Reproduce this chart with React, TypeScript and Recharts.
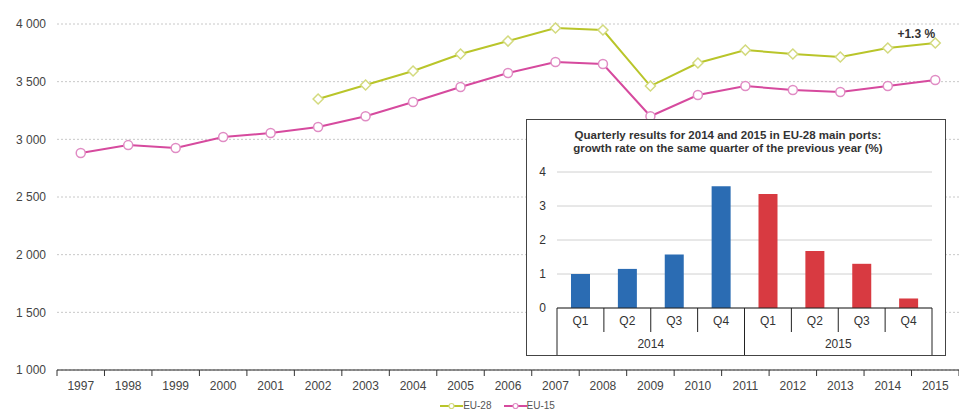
import React from "react";
import {
  LineChart, Line, XAxis, YAxis, CartesianGrid, Legend, LabelList,
  BarChart, Bar, Cell,
} from "recharts";

const years = ["1997","1998","1999","2000","2001","2002","2003","2004","2005","2006","2007","2008","2009","2010","2011","2012","2013","2014","2015"];
const eu28: (number | null)[] = [null,null,null,null,null,3350,3471,3592,3740,3852,3965,3948,3462,3662,3774,3740,3714,3792,3835];
const eu15: number[] = [2881,2950,2925,3020,3055,3107,3200,3324,3454,3575,3670,3653,3200,3384,3462,3428,3410,3462,3514];
const yTicks = [1000,1500,2000,2500,3000,3500,4000];
const growthLabel = "+1.3 %";

const quarters = ["Q1","Q2","Q3","Q4","Q1","Q2","Q3","Q4"];
const quarterYears = ["2014","2014","2014","2014","2015","2015","2015","2015"];
const growth = [1.0,1.15,1.57,3.58,3.35,1.68,1.3,0.28];
const insetTicks = [0,1,2,3,4];
const insetTitle1 = "Quarterly results for 2014 and 2015 in EU-28 main ports:";
const insetTitle2 = "growth rate on the same quarter of the previous year (%)";

const FONT = "'Liberation Sans', Arial, sans-serif";
const C28 = "#b9c52a";
const C28M = "#d3da7e";
const C15 = "#d64a9e";
const C15M = "#e08cc4";
const BLUE = "#2b6cb3";
const RED = "#d83a41";

const lineData = years.map((y, i) => ({ year: y, eu28: eu28[i], eu15: eu15[i] }));
const barData = quarters.map((q, i) => ({ q, yr: quarterYears[i], v: growth[i] }));

const fmt = (v: number) => {
  const s = String(v);
  return s.length > 3 ? s.slice(0, s.length - 3) + "\u00a0" + s.slice(-3) : s;
};

const Diamond = (props: any) => {
  const { cx, cy, value } = props;
  if (value == null || cx == null || cy == null) return null;
  const r = 5;
  return (
    <path
      d={`M${cx},${cy - r}L${cx + r},${cy}L${cx},${cy + r}L${cx - r},${cy}Z`}
      fill="#fff" stroke={C28M} strokeWidth={1.5}
    />
  );
};

const Circ = (props: any) => {
  const { cx, cy } = props;
  if (cx == null || cy == null) return null;
  return <circle cx={cx} cy={cy} r={4.5} fill="#fff" stroke={C15M} strokeWidth={1.5} />;
};

const MainXTick = (props: any) => {
  const { x, y, payload, index } = props;
  const off = payload && payload.offset ? payload.offset : 23.7;
  const n = years.length;
  return (
    <g>
      <line x1={x - off} x2={x - off} y1={y - 8} y2={y - 2} stroke="#333" />
      {index === n - 1 && <line x1={x + off} x2={x + off} y1={y - 8} y2={y - 2} stroke="#333" />}
      <text x={x} y={y + 12} textAnchor="middle" fill="#444" fontSize={12} fontFamily={FONT}>
        {payload.value}
      </text>
    </g>
  );
};

const LastLabel = (props: any) => {
  const { x, y, index } = props;
  if (index !== years.length - 1) return null;
  return (
    <text x={x - 19} y={y - 5} textAnchor="middle" fill="#333" fontSize={12} fontWeight="bold" fontFamily={FONT}>
      {growthLabel}
    </text>
  );
};

const InsetXTick = (props: any) => {
  const { x, y, payload, index } = props;
  const off = payload && payload.offset ? payload.offset : 23.4;
  const n = quarters.length;
  const top = y - 8;
  const yearStart = index === 0 || quarterYears[index] !== quarterYears[index - 1];
  const showYear = index % 4 === 1;
  return (
    <g>
      <line x1={x - off} x2={x - off} y1={top} y2={yearStart ? top + 47 : top + 24} stroke="#222" />
      {index === n - 1 && <line x1={x + off} x2={x + off} y1={top} y2={top + 47} stroke="#222" />}
      <text x={x} y={top + 17} textAnchor="middle" fill="#333" fontSize={12} fontFamily={FONT}>
        {payload.value}
      </text>
      {showYear && (
        <text x={x + off} y={top + 40} textAnchor="middle" fill="#333" fontSize={12} fontFamily={FONT}>
          {quarterYears[index]}
        </text>
      )}
    </g>
  );
};

const legendOrder = ["EU-28", "EU-15"];
const markerColor: Record<string, string> = { "EU-28": C28M, "EU-15": C15M };

const LegendContent = (props: any) => {
  const items = [...(props.payload || [])].sort(
    (a: any, b: any) => legendOrder.indexOf(a.value) - legendOrder.indexOf(b.value)
  );
  return (
    <div style={{ display: "flex", justifyContent: "center", paddingLeft: 48, paddingTop: 10, fontFamily: FONT }}>
      {items.map((it: any) => (
        <div key={it.value} style={{ display: "flex", alignItems: "center", marginRight: 12 }}>
          <svg width={23} height={10} style={{ display: "block" }}>
            <line x1={0} x2={23} y1={5} y2={5} stroke={it.color} strokeWidth={2} />
            <circle cx={11.5} cy={5} r={2.5} fill="#fff" stroke={markerColor[it.value] || it.color} strokeWidth={1.2} />
          </svg>
          <span style={{ fontSize: 10, color: "#555" }}>{it.value}</span>
        </div>
      ))}
    </div>
  );
};

export default function App() {
  return (
    <div style={{ position: "absolute", left: 0, top: 0, width: 959, height: 410, background: "#fff", fontFamily: FONT, overflow: "hidden" }}>
      <LineChart width={959} height={410} data={lineData} margin={{ top: 24, right: 0, left: 0, bottom: 0 }}>
        <CartesianGrid vertical={false} stroke="#c8c8c8" strokeDasharray="2 2" />
        <XAxis
          dataKey="year"
          scale="band"
          height={20}
          axisLine={{ stroke: "#222" }}
          tickLine={false}
          tick={<MainXTick />}
          interval={0}
        />
        <YAxis
          width={57}
          domain={[1000, 4000]}
          ticks={yTicks}
          axisLine={false}
          tickLine={false}
          tickMargin={5}
          tickFormatter={fmt}
          tick={{ fill: "#444", fontSize: 12, fontFamily: FONT }}
        />
        <Legend verticalAlign="bottom" height={20} content={<LegendContent />} />
        <Line
          name="EU-28" dataKey="eu28" stroke={C28} strokeWidth={2} legendType="line"
          dot={<Diamond />} activeDot={false} isAnimationActive={false}
        >
          <LabelList dataKey="eu28" content={<LastLabel />} />
        </Line>
        <Line
          name="EU-15" dataKey="eu15" stroke={C15} strokeWidth={2} legendType="line"
          dot={<Circ />} activeDot={false} isAnimationActive={false}
        />
      </LineChart>

      <div style={{
        position: "absolute", left: 526, top: 119, width: 420, height: 237,
        border: "1px solid #444", boxSizing: "border-box", background: "#fff",
      }}>
        <div style={{
          position: "absolute", left: 0, top: 9, width: 402, textAlign: "center",
          fontSize: 11.5, fontWeight: "bold", color: "#333", lineHeight: "13px",
        }}>
          <div>{insetTitle1}</div>
          <div>{insetTitle2}</div>
        </div>
        <div style={{ position: "absolute", left: 0, top: 0 }}>
          <BarChart width={418} height={235} data={barData} margin={{ top: 52, right: 13, left: 0, bottom: 0 }} barSize={19}>
            <CartesianGrid vertical={false} stroke="#d0d0d0" />
            <XAxis
              dataKey="q"
              height={47}
              axisLine={{ stroke: "#222" }}
              tickLine={false}
              tick={<InsetXTick />}
              interval={0}
            />
            <YAxis
              width={30}
              domain={[0, 4]}
              ticks={insetTicks}
              axisLine={false}
              tickLine={false}
              tickMargin={5}
              tick={{ fill: "#333", fontSize: 12, fontFamily: FONT }}
            />
            <Bar dataKey="v" isAnimationActive={false}>
              {barData.map((d, i) => (
                <Cell key={i} fill={d.yr === "2014" ? BLUE : RED} />
              ))}
            </Bar>
          </BarChart>
        </div>
      </div>
    </div>
  );
}
